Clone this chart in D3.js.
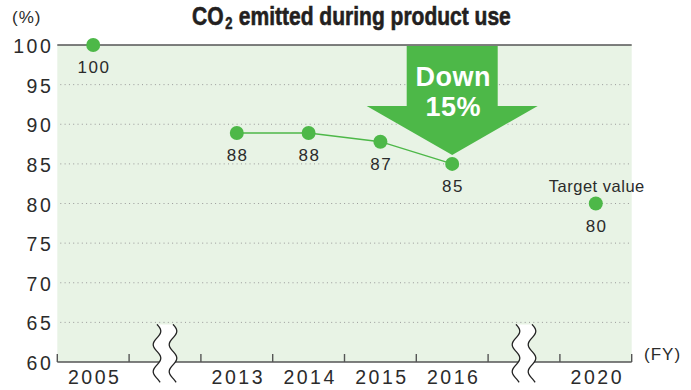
<!DOCTYPE html>
<html>
<head>
<meta charset="utf-8">
<script src="https://cdn.jsdelivr.net/npm/d3@7"></script>
<style>
  body { margin: 0; background: #fff; }
  svg { display: block; }
</style>
</head>
<body>
<svg id="chart" width="691" height="390"></svg>
<script>
// categories on the x axis (gaps mark the axis breaks)
const categories = ['2005', 'gap1', '2013', '2014', '2015', '2016', 'gap2', '2020'];
const pointYears = ['2005', '2013', '2014', '2015', '2016', '2020'];
const values = [100, 88.9, 88.9, 87.8, 85.0, 80];
const valueLabels = ['100', '88', '88', '87', '85', '80'];
const lineYears = ['2013', '2014', '2015', '2016'];
const yTicks = [60, 65, 70, 75, 80, 85, 90, 95, 100];
const gridTicks = [65, 70, 75, 80, 85, 90, 95];

const svg = d3.select('#chart');

/**
 * SIZE DEFINITIONS
 */
const plotLeft = 57.3;
const plotRight = 631.7;
const plotTop = 45;
const plotBottom = 362;
const green = '#4db848';
const textColor = '#2b2b2b';
const font = '"Liberation Sans", Arial, sans-serif';

/**
 * SCALES
 */
const x = d3.scaleBand().domain(categories).range([plotLeft, plotRight]);
const y = d3.scaleLinear().domain([60, 100]).range([plotBottom, plotTop]);
const cx = (d) => x(d) + x.bandwidth() / 2;

/**
 * TITLE (horizontally squeezed to look condensed)
 */
const gTitle = svg.append('g');
const titleText = (t, size) =>
  gTitle
    .append('text')
    .attr('font-family', font)
    .attr('font-weight', 'bold')
    .attr('font-size', size)
    .attr('fill', '#231f20')
    .attr('stroke', '#231f20')
    .attr('stroke-width', 0.6)
    .text(t);
const tCO = titleText('CO', 26);
const tSub = titleText('2', 16);
const tRest = titleText('emitted during product use', 26);
const w1 = tCO.node().getComputedTextLength();
const w2 = tSub.node().getComputedTextLength();
const w3 = tRest.node().getComputedTextLength();
tSub.attr('x', w1 + 2).attr('y', 3.5);
tRest.attr('x', w1 + 2 + w2 + 8);
const titleScale = 319 / (w1 + 2 + w2 + 8 + w3);
gTitle.attr('transform', `translate(192, 25) scale(${titleScale}, 1)`);

/**
 * PLOT BACKGROUND + GRID
 */
svg
  .append('rect')
  .attr('x', plotLeft)
  .attr('y', plotTop)
  .attr('width', plotRight - plotLeft)
  .attr('height', plotBottom - plotTop)
  .attr('fill', '#e8f3e5');

svg
  .append('g')
  .selectAll('line')
  .data(gridTicks)
  .join('line')
  .attr('x1', plotLeft + 3)
  .attr('x2', plotRight)
  .attr('y1', (d) => y(d))
  .attr('y2', (d) => y(d))
  .attr('stroke', '#9a9a9a')
  .attr('stroke-width', 1)
  .attr('stroke-dasharray', '1,3.3');

// top line at 100
svg
  .append('line')
  .attr('x1', plotLeft)
  .attr('x2', plotRight)
  .attr('y1', y(100))
  .attr('y2', y(100))
  .attr('stroke', '#555')
  .attr('stroke-width', 1.6);

/**
 * ARROW "Down 15%"
 */
const ax = cx('2016');
const shaftHalf = 45.5;
const headHalf = 85.5;
const headY = y(92.3);
const tipY = y(values[4]) - 9;
const arrowPts = [
  [ax - shaftHalf, y(100) + 1],
  [ax + shaftHalf, y(100) + 1],
  [ax + shaftHalf, headY],
  [ax + headHalf, headY],
  [ax, tipY],
  [ax - headHalf, headY],
  [ax - shaftHalf, headY]
];
svg
  .append('path')
  .attr('d', d3.line()(arrowPts) + 'Z')
  .attr('fill', green);

svg
  .append('g')
  .selectAll('text')
  .data(['Down', '15%'])
  .join('text')
  .attr('x', ax + 1)
  .attr('y', (d, i) => 86 + i * 30)
  .attr('text-anchor', 'middle')
  .attr('font-family', font)
  .attr('font-weight', 'bold')
  .attr('font-size', 27)
  .attr('letter-spacing', 0.5)
  .attr('fill', '#fff')
  .text((d) => d);

/**
 * X AXIS (line, boundary ticks, labels)
 */
svg
  .append('line')
  .attr('x1', plotLeft)
  .attr('x2', plotRight)
  .attr('y1', plotBottom)
  .attr('y2', plotBottom)
  .attr('stroke', '#555')
  .attr('stroke-width', 1.6);

const bounds = categories.map((d) => x(d)).concat([plotRight]);
svg
  .append('g')
  .selectAll('line')
  .data(bounds)
  .join('line')
  .attr('x1', (d) => d)
  .attr('x2', (d) => d)
  .attr('y1', plotBottom)
  .attr('y2', plotBottom - 8)
  .attr('stroke', '#555')
  .attr('stroke-width', 1.4);

const xAxis = d3
  .axisBottom(x)
  .tickSize(0)
  .tickFormat((d) => (d.startsWith('gap') ? '' : d));
const gX = svg
  .append('g')
  .attr('transform', `translate(0, ${plotBottom})`)
  .call(xAxis);
gX.select('.domain').remove();
gX.selectAll('.tick text')
  .attr('y', 22)
  .attr('dy', 0)
  .attr('dx', 1.5)
  .attr('font-family', font)
  .attr('font-size', 19.5)
  .attr('letter-spacing', 2.5)
  .attr('fill', textColor);

/**
 * AXIS BREAKS
 */
const waveOffsets = (n) =>
  d3.range(0, n, 1).map((t) => [3.8 * Math.sin((t / 27) * 2 * Math.PI), y(65) + 2 + t]);
categories
  .filter((d) => d.startsWith('gap'))
  .forEach((g) => {
    const c = cx(g);
    const offs = waveOffsets(59);
    const area = offs
      .map((p) => [c - 8 + p[0], p[1]])
      .concat(offs.slice().reverse().map((p) => [c + 8 + p[0], p[1]]));
    svg.append('path').attr('d', d3.line()(area) + 'Z').attr('fill', '#fff');
    [c - 8, c + 8].forEach((x0) => {
      svg
        .append('path')
        .attr('d', d3.line().curve(d3.curveBasis)(offs.map((p) => [x0 + p[0], p[1]])))
        .attr('fill', 'none')
        .attr('stroke', '#222')
        .attr('stroke-width', 1.3);
    });
  });

/**
 * Y AXIS LABELS
 */
const yAxis = d3.axisLeft(y).tickValues(yTicks).tickSize(0);
const gY = svg.append('g').attr('transform', `translate(${plotLeft}, 0)`).call(yAxis);
gY.select('.domain').remove();
gY.selectAll('.tick text')
  .attr('x', -4)
  .attr('dy', 7.5)
  .attr('font-family', font)
  .attr('font-size', 19.5)
  .attr('letter-spacing', 2.5)
  .attr('fill', textColor);

svg
  .append('text')
  .attr('x', 12)
  .attr('y', 23)
  .attr('font-family', font)
  .attr('font-size', 17)
  .attr('letter-spacing', 1)
  .attr('fill', textColor)
  .text('(%)');

svg
  .append('text')
  .attr('x', 644)
  .attr('y', 360)
  .attr('font-family', font)
  .attr('font-size', 17)
  .attr('letter-spacing', 1)
  .attr('fill', textColor)
  .text('(FY)');

/**
 * LINE + POINTS
 */
const pts = pointYears.map((d, i) => ({ year: d, value: values[i], label: valueLabels[i] }));

svg
  .append('path')
  .attr(
    'd',
    d3
      .line()
      .x((d) => cx(d.year))
      .y((d) => y(d.value))(pts.filter((d) => lineYears.includes(d.year)))
  )
  .attr('fill', 'none')
  .attr('stroke', green)
  .attr('stroke-width', 1.4);

svg
  .append('g')
  .selectAll('circle')
  .data(pts)
  .join('circle')
  .attr('cx', (d) => cx(d.year))
  .attr('cy', (d) => y(d.value))
  .attr('r', 7)
  .attr('fill', green);

svg
  .append('g')
  .selectAll('text')
  .data(pts)
  .join('text')
  .attr('x', (d) => cx(d.year) + 0.8)
  .attr('y', (d) => y(d.value) + 28.4)
  .attr('text-anchor', 'middle')
  .attr('font-family', font)
  .attr('font-size', 17)
  .attr('letter-spacing', 1.5)
  .attr('fill', textColor)
  .text((d) => d.label);

svg
  .append('text')
  .attr('x', cx('2020') + 1)
  .attr('y', y(80) - 12)
  .attr('text-anchor', 'middle')
  .attr('font-family', font)
  .attr('font-size', 16.5)
  .attr('letter-spacing', 0.5)
  .attr('fill', textColor)
  .text('Target value');
</script>
</body>
</html>
